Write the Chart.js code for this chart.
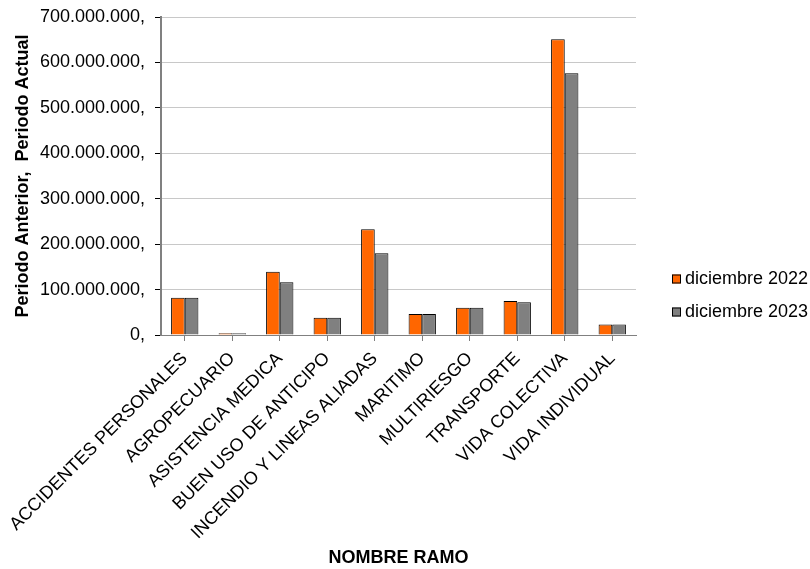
<!DOCTYPE html>
<html>
<head>
<meta charset="utf-8">
<script src="https://cdn.jsdelivr.net/npm/chart.js@4/dist/chart.umd.min.js"></script>
<style>
  body { margin: 0; background: #fff; }
</style>
</head>
<body>
<canvas id="ramoChart" width="810" height="569"></canvas>
<script>
const ramos = ["ACCIDENTES PERSONALES", "AGROPECUARIO", "ASISTENCIA MEDICA", "BUEN USO DE ANTICIPO",
  "INCENDIO Y LINEAS ALIADAS", "MARITIMO", "MULTIRIESGO", "TRANSPORTE", "VIDA COLECTIVA", "VIDA INDIVIDUAL"];
const dic2022 = [82000000, 4000000, 139000000, 38000000, 233000000, 46000000, 60000000, 75000000, 651000000, 23000000];
const dic2023 = [82000000, 4000000, 116000000, 38000000, 180000000, 46000000, 60000000, 72000000, 576000000, 23000000];
const yTicks = [0, 100000000, 200000000, 300000000, 400000000, 500000000, 600000000, 700000000];

const FONT = "'Liberation Sans', Arial, sans-serif";

// legend drawn by hand, right side lower half like the original
const sideLegend = {
  id: 'sideLegend',
  afterDraw(chart) {
    const c = chart.ctx;
    c.save();
    c.font = "18px " + FONT;
    c.textBaseline = 'middle';
    chart.data.datasets.forEach((ds, i) => {
      const y = 279 + i * 33;
      c.fillStyle = ds.backgroundColor;
      c.fillRect(672, y - 4.5, 9, 9);
      c.strokeStyle = '#000';
      c.lineWidth = 1;
      c.strokeRect(672.5, y - 4, 8, 8);
      c.fillStyle = '#000';
      c.fillText(ds.label, 685, y);
    });
    c.restore();
  }
};

const ctx = document.getElementById('ramoChart').getContext('2d');
const ramoChart = new Chart(ctx, {
  type: 'bar',
  data: {
    labels: ramos,
    datasets: [{
      label: 'diciembre 2022',
      data: dic2022,
      backgroundColor: '#FF6600',
      borderColor: '#000000',
      borderWidth: 1
    }, {
      label: 'diciembre 2023',
      data: dic2023,
      backgroundColor: '#808080',
      borderColor: '#000000',
      borderWidth: 1
    }]
  },
  options: {
    responsive: false,
    animation: false,
    categoryPercentage: 0.575,
    barPercentage: 1,
    layout: { padding: { top: 17, right: 174, left: 0, bottom: 0 } },
    plugins: {
      legend: { display: false },
      tooltip: { enabled: false }
    },
    scales: {
      x: {
        afterFit(s) { s.height = 234; s.paddingLeft = 0; s.paddingRight = 0; },
        grid: { display: true, drawOnChartArea: false, offset: false, tickLength: 6, color: '#808080' },
        border: { color: '#808080', width: 1 },
        ticks: {
          autoSkip: false, maxRotation: 45, minRotation: 45,
          color: '#000', font: { family: FONT, size: 18 }, padding: 7
        },
        title: {
          display: true, text: 'NOMBRE RAMO', color: '#000',
          font: { family: FONT, size: 18, weight: 'bold' }, padding: { top: 0, bottom: 0 }
        }
      },
      y: {
        min: 0, max: 700000000,
        afterFit(s) { s.width = 161; s.paddingTop = 0; s.paddingBottom = 0; },
        afterBuildTicks(s) { s.ticks = yTicks.map(v => ({ value: v })); },
        grid: { color: '#C8C8C8', tickLength: 6, tickColor: '#000' },
        border: { color: '#808080', width: 2 },
        ticks: {
          color: '#000', font: { family: FONT, size: 18 }, padding: 10,
          callback: v => String(v).replace(/\B(?=(\d{3})+(?!\d))/g, '.') + ','
        },
        title: {
          display: true, text: 'Periodo Anterior,  Periodo Actual', color: '#000',
          font: { family: FONT, size: 18, weight: 'bold' }, padding: { top: 12, bottom: 0 }
        }
      }
    }
  },
  plugins: [sideLegend]
});
</script>
</body>
</html>
